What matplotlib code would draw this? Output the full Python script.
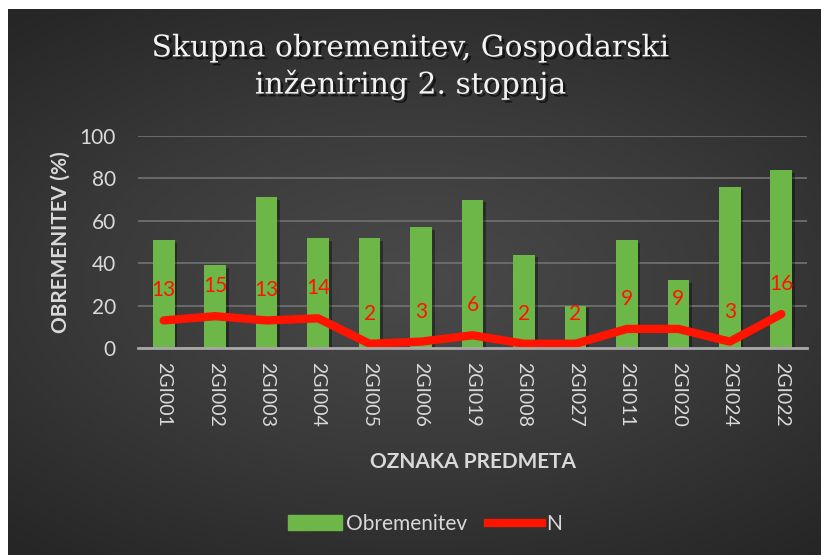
import numpy as np
import matplotlib.pyplot as plt
import matplotlib.patheffects as pe
from matplotlib.lines import Line2D
from matplotlib.patches import Patch
from matplotlib.colors import LinearSegmentedColormap

predmeti = ['2GI001', '2GI002', '2GI003', '2GI004', '2GI005', '2GI006', '2GI019',
            '2GI008', '2GI027', '2GI011', '2GI020', '2GI024', '2GI022']
obremenitev = [51, 39, 71, 52, 52, 57, 70, 44, 20, 51, 32, 76, 84]
N = [13, 15, 13, 14, 2, 3, 6, 2, 2, 9, 9, 3, 16]

zelena = '#6cb748'
rdeca = '#ff1400'
siva = '#d9d9d9'

fig = plt.figure(figsize=(8.21, 5.55), dpi=100, facecolor='white')

# ozadje z radialnim prelivom
bg = fig.add_axes([8/821, 0, 1 - 8/821, 1 - 9/555])
bg.set_axis_off()
yy, xx = np.mgrid[-1:1:300j, -1:1:400j]
r = np.sqrt((xx*0.9)**2 + (yy*1.1)**2)
bg.imshow(r, cmap=LinearSegmentedColormap.from_list('bg', ['#4a4a4a', '#3a3a3a', '#262626']),
          vmin=0, vmax=1.4, aspect='auto', extent=[0, 1, 0, 1])

ax = fig.add_axes([138/821, 1 - 348/555, (807 - 138)/821, (348 - 136)/555])
ax.patch.set_alpha(0)
x = np.arange(len(predmeti))

ax.bar(x, obremenitev, width=0.42, color=zelena, zorder=2,
       path_effects=[pe.withSimplePatchShadow(offset=(2, -2), shadow_rgbFace='black', alpha=0.35)])
ax.plot(x, N, color=rdeca, lw=6, solid_joinstyle='round', solid_capstyle='round', zorder=3)

for i, n in enumerate(N):
    ax.annotate(str(n), (x[i], n), xytext=(0, 30), textcoords='offset pixels',
                ha='center', va='center', color=rdeca, fontsize=15,
                fontfamily='Lato', zorder=4)

ax.set_xlim(-0.5, len(predmeti) - 0.5)
ax.set_ylim(0, 100)
ax.set_yticks(range(0, 101, 20))
ax.grid(axis='y', color='#6e6e6e', lw=1.3, zorder=0)
for s in ['top', 'right', 'left']:
    ax.spines[s].set_visible(False)
ax.spines['bottom'].set_color('#a8a8a8')
ax.spines['bottom'].set_linewidth(2)
ax.spines['bottom'].set_zorder(5)
ax.tick_params(axis='y', length=0, colors=siva, labelsize=15, pad=16)
ax.tick_params(axis='x', length=0, colors=siva, labelsize=14, pad=10)
ax.set_xticks(x)
ax.set_xticklabels(predmeti, rotation=270, fontfamily='Lato', fontsize=14)
for t in ax.get_yticklabels():
    t.set_fontfamily('Lato')

ax.set_ylabel('OBREMENITEV (%)', color=siva, fontsize=15, fontweight='bold',
              fontfamily='Lato', labelpad=6)
ax.set_xlabel('OZNAKA PREDMETA', color=siva, fontsize=15, fontweight='bold',
              fontfamily='Lato', labelpad=18)

fig.text(0.5, 1 - 67/555, 'Skupna obremenitev, Gospodarski\ninženiring 2. stopnja',
         ha='center', va='center', color='#f2f2f2', fontsize=21.5,
         fontfamily='DejaVu Serif', linespacing=1.3,
         path_effects=[pe.withSimplePatchShadow(offset=(2, -2), shadow_rgbFace='black', alpha=0.6)])

handles = [Patch(color=zelena), Line2D([0], [0], color=rdeca, lw=6)]
leg = fig.legend(handles, ['Obremenitev', 'N'], loc='center', bbox_to_anchor=(425/821, 1 - 524/555),
                 ncol=2, frameon=False, handlelength=2.6, handletextpad=0.2,
                 columnspacing=1.0, prop={'family': 'Lato', 'size': 15})
for t in leg.get_texts():
    t.set_color(siva)

fig.savefig('out.png', dpi=100, facecolor='white')
